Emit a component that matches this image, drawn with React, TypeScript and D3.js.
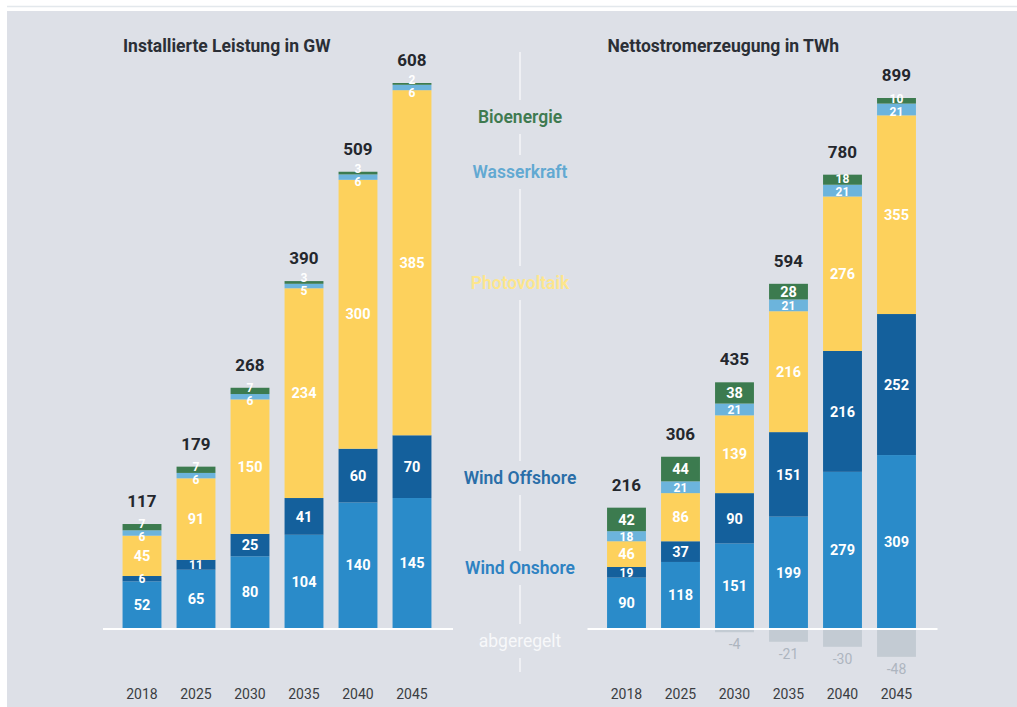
import React from "react";
import * as d3 from "d3";

const years = ["2018", "2025", "2030", "2035", "2040", "2045"];

// Installierte Leistung in GW
const gwOnshore = [52, 65, 80, 104, 140, 145];
const gwOffshore = [6, 11, 25, 41, 60, 70];
const gwPV = [45, 91, 150, 234, 300, 385];
const gwHydro = [6, 6, 6, 5, 6, 6];
const gwBio = [7, 7, 7, 3, 3, 2];
const gwTotal = [117, 179, 268, 390, 509, 608];

// Nettostromerzeugung in TWh
const twhOnshore = [90, 118, 151, 199, 279, 309];
const twhOffshore = [19, 37, 90, 151, 216, 252];
const twhPV = [46, 86, 139, 216, 276, 355];
const twhHydro = [18, 21, 21, 21, 21, 21];
const twhBio = [42, 44, 38, 28, 18, 10];
const twhCurtailed = [0, 0, -4, -21, -30, -48];
const twhTotal = [216, 306, 435, 594, 780, 899];

const seriesNames = ["Wind Onshore", "Wind Offshore", "Photovoltaik", "Wasserkraft", "Bioenergie"];
const seriesColors = ["#2a8bc9", "#14609c", "#fdd15c", "#6cb4dc", "#3c7b4f"];
const legendColors = ["#2e82c2", "#2a6ea8", "#fde68c", "#62a9d2", "#3f7a50"];
const curtailedName = "abgeregelt";
const curtailedColor = "#c3cbd3";

const FONT = "Roboto, 'Open Sans', sans-serif";

type Seg = { y0: number; y1: number; v: number; color: string; fs: number };

function StackedChart(props: {
  series: number[][];
  totals: number[];
  negative?: number[];
  title: string;
  xRange: [number, number];
  yMax: number;
  yTop: number;
}) {
  const { series, totals, negative, title, xRange, yMax, yTop } = props;
  const base = 628;
  const x = d3.scaleBand<string>().domain(years).range(xRange).paddingInner(0.28).paddingOuter(0.14);
  const y = d3.scaleLinear().domain([0, yMax]).range([base, yTop]);
  const rows = years.map((yr, i) => {
    const o: any = { year: yr };
    series.forEach((s, k) => (o["s" + k] = s[i]));
    return o;
  });
  const stack = d3.stack<any>().keys(series.map((_, k) => "s" + k));
  const stacked = stack(rows);
  const bw = x.bandwidth();

  return (
    <g>
      <text x={xRange[0] + 8} y={52} fontFamily={FONT} fontWeight={700} fontSize={17.5} fill="#2b2f36">
        {title}
      </text>
      <line x1={xRange[0] - 12} x2={xRange[1] + 14} y1={base + 1} y2={base + 1} stroke="#ffffff" strokeWidth={2} />
      {years.map((yr, i) => {
        const segs: Seg[] = stacked.map((layer, k) => {
          const y0 = y(layer[i][0]);
          const y1 = y(layer[i][1]);
          return { y0, y1, v: series[k][i], color: seriesColors[k], fs: y0 - y1 < 14 ? 12 : 14.5 };
        });
        const ly = segs.map((s) => (s.y0 + s.y1) / 2);
        for (let k = 1; k < ly.length; k++) {
          const gap = (segs[k - 1].fs + segs[k].fs) / 2 + 1;
          if (ly[k - 1] - ly[k] < gap) {
            const mid = (ly[k - 1] + ly[k]) / 2;
            ly[k - 1] = Math.max(ly[k - 1], mid + gap / 2);
            ly[k] = mid - gap / 2;
          }
        }
        const cx = (x(yr) as number) + bw / 2;
        const top = y(d3.sum(series, (s) => s[i]));
        const neg = negative ? negative[i] : 0;
        return (
          <g key={yr}>
            {segs.map((s, k) => (
              <rect key={k} x={x(yr)} width={bw} y={s.y1} height={Math.max(0, s.y0 - s.y1)} fill={s.color} />
            ))}
            {segs.map((s, k) => (
              <text
                key={"t" + k}
                x={cx}
                y={ly[k]}
                dy="0.36em"
                textAnchor="middle"
                fontFamily={FONT}
                fontWeight={700}
                fontSize={s.fs}
                fill="#ffffff"
              >
                {s.v}
              </text>
            ))}
            <text x={cx} y={top - 17} textAnchor="middle" fontFamily={FONT} fontWeight={700} fontSize={17} fill="#24272d">
              {totals[i]}
            </text>
            {negative && neg < 0 && (
              <g>
                <rect x={x(yr)} width={bw} y={base + 2} height={y(neg) - base} fill={curtailedColor} />
                <text
                  x={cx}
                  y={y(neg) + 2 + 12}
                  dy="0.36em"
                  textAnchor="middle"
                  fontFamily={FONT}
                  fontSize={14}
                  fill="#adb5bf"
                >
                  {neg}
                </text>
              </g>
            )}
            <text x={cx} y={694} dy="0.36em" textAnchor="middle" fontFamily={FONT} fontSize={14} fill="#3a3d42">
              {yr}
            </text>
          </g>
        );
      })}
    </g>
  );
}

const legendY = [568, 478, 283, 172, 117];
const curtailedY = 641;

export default function App() {
  const midX = 520;
  const labelYs = [...legendY, curtailedY].sort((a, b) => a - b);
  const dividerSegs: [number, number][] = [];
  let start = 52;
  labelYs.forEach((ly) => {
    dividerSegs.push([start, ly - 17]);
    start = ly + 17;
  });
  dividerSegs.push([start, 672]);

  return (
    <svg
      width={1017}
      height={707}
      style={{ position: "absolute", left: 0, top: 0, display: "block" }}
    >
      <rect x={0} y={0} width={1017} height={707} fill="#ffffff" />
      <line x1={7} x2={1017} y1={6.5} y2={6.5} stroke="#e3e8ec" strokeWidth={1.5} />
      <rect x={7} y={11} width={1010} height={696} fill="#dde0e7" />
      {dividerSegs.map((s, i) => (
        <line key={i} x1={midX} x2={midX} y1={s[0]} y2={s[1]} stroke="#f4f6f9" strokeWidth={1.5} />
      ))}
      <StackedChart
        series={[gwOnshore, gwOffshore, gwPV, gwHydro, gwBio]}
        totals={gwTotal}
        title="Installierte Leistung in GW"
        xRange={[115, 439]}
        yMax={608}
        yTop={83}
      />
      <StackedChart
        series={[twhOnshore, twhOffshore, twhPV, twhHydro, twhBio]}
        totals={twhTotal}
        negative={twhCurtailed}
        title="Nettostromerzeugung in TWh"
        xRange={[599.5, 923.5]}
        yMax={947}
        yTop={98}
      />
      {seriesNames.map((n, k) => (
        <text
          key={n}
          x={midX}
          y={legendY[k]}
          dy="0.36em"
          textAnchor="middle"
          fontFamily={FONT}
          fontWeight={600}
          fontSize={17.5}
          fill={legendColors[k]}
        >
          {n}
        </text>
      ))}
      <text x={midX} y={curtailedY} dy="0.36em" textAnchor="middle" fontFamily={FONT} fontSize={17.5} fill="#f7f8fa">
        {curtailedName}
      </text>
    </svg>
  );
}
